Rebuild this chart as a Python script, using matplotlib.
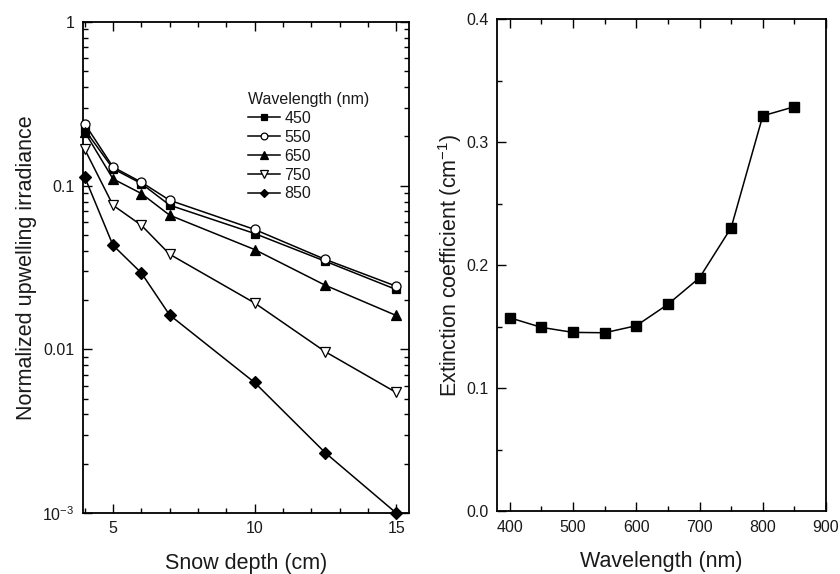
import matplotlib
matplotlib.use("Agg")
import matplotlib.pyplot as plt
from matplotlib.ticker import MultipleLocator, FixedLocator, FixedFormatter, LogLocator, NullFormatter

plt.rcParams['font.family'] = ['Liberation Sans', 'DejaVu Sans']
plt.rcParams['mathtext.fontset'] = 'custom'
plt.rcParams['mathtext.rm'] = 'Liberation Sans'
plt.rcParams['mathtext.it'] = 'Liberation Sans:italic'
plt.rcParams['mathtext.bf'] = 'Liberation Sans:bold'

# Left panel data
depth = [4, 5, 6, 7, 10, 12.5, 15]
wl_labels = ['450', '550', '650', '750', '850']
irr_450 = [0.220, 0.127, 0.103, 0.076, 0.051, 0.0345, 0.0232]
irr_550 = [0.239, 0.130, 0.105, 0.0814, 0.054, 0.0354, 0.0243]
irr_650 = [0.213, 0.110, 0.0895, 0.066, 0.0407, 0.0246, 0.0161]
irr_750 = [0.167, 0.0759, 0.0573, 0.0381, 0.0192, 0.00966, 0.00545]
irr_850 = [0.113, 0.0432, 0.0293, 0.0162, 0.00627, 0.00233, 0.001]

# Right panel data
wavelength = [400, 450, 500, 550, 600, 650, 700, 750, 800, 850]
extinction = [0.1574, 0.1496, 0.1455, 0.1452, 0.1509, 0.1683, 0.1899, 0.2306, 0.3216, 0.329]

fig = plt.figure(figsize=(8.4, 5.74), dpi=100)
ax1 = fig.add_axes([0.0988, 0.1063, 0.388, 0.8554])
ax2 = fig.add_axes([0.5917, 0.1092, 0.3917, 0.857])

tick_fs = 11.5
label_fs = 15.5
txt_col = '#1a1a1a'

series = [irr_450, irr_550, irr_650, irr_750, irr_850]
markers = ['s', 'o', '^', 'v', 'D']
fills = ['black', 'white', 'black', 'white', 'black']
sizes = [6, 6.5, 7, 7, 6]
for vals, lab, m, fc, ms in zip(series, wl_labels, markers, fills, sizes):
    ax1.plot(depth, vals, color='black', lw=1.1, marker=m, ms=ms,
             mfc=fc, mec='black', mew=0.9, label=lab, clip_on=False, zorder=3)

ax1.set_yscale('log')
ax1.set_ylim(0.001, 1)
ax1.set_xlim(3.94, 15.45)
ax1.xaxis.set_major_locator(FixedLocator([5, 10, 15]))
ax1.xaxis.set_minor_locator(MultipleLocator(1))
ax1.yaxis.set_major_locator(FixedLocator([0.001, 0.01, 0.1, 1]))
ax1.yaxis.set_major_formatter(FixedFormatter([r'$\mathregular{10^{-3}}$', '0.01', '0.1', '1']))
ax1.yaxis.set_minor_locator(LogLocator(base=10, subs=range(2, 10)))
ax1.yaxis.set_minor_formatter(NullFormatter())
ax1.tick_params(which='both', direction='in', top=True, right=True, labelsize=tick_fs,
                width=1.0, labelcolor=txt_col)
ax1.tick_params(which='major', length=6.5, pad=6)
ax1.tick_params(which='minor', length=3.5)
ax1.set_xlabel('Snow depth (cm)', fontsize=label_fs, labelpad=12, color=txt_col)
ax1.set_ylabel('Normalized upwelling irradiance', fontsize=label_fs, labelpad=4, color=txt_col)

leg = ax1.legend(title='Wavelength (nm)', loc='upper left', bbox_to_anchor=(0.505, 0.857),
                 frameon=False, fontsize=11.5, title_fontsize=11.5, handlelength=2.0,
                 handletextpad=0.3, labelspacing=0.24, borderpad=0, borderaxespad=0,
                 markerscale=0.75, alignment='left')
for t in leg.get_texts():
    t.set_color(txt_col)
leg.get_title().set_color(txt_col)

ax2.plot(wavelength, extinction, color='black', lw=1.1, marker='s', ms=7,
         mfc='black', mec='black', clip_on=False, zorder=3)
ax2.set_xlim(380, 900)
ax2.set_ylim(0, 0.4)
ax2.xaxis.set_major_locator(MultipleLocator(100))
ax2.xaxis.set_minor_locator(MultipleLocator(50))
ax2.yaxis.set_major_locator(MultipleLocator(0.1))
ax2.yaxis.set_minor_locator(MultipleLocator(0.05))
ax2.yaxis.set_major_formatter(matplotlib.ticker.FormatStrFormatter('%.1f'))
ax2.tick_params(which='both', direction='in', top=True, right=False, labelsize=tick_fs,
                width=1.0, labelcolor=txt_col)
ax2.tick_params(which='major', length=6.5, pad=6)
ax2.tick_params(which='minor', length=3.5)
ax2.set_xlabel('Wavelength (nm)', fontsize=label_fs, labelpad=12, color=txt_col)
ax2.set_ylabel(r'Extinction coefficient (cm$\mathregular{^{-1}}$)', fontsize=label_fs,
               labelpad=2, color=txt_col)

for ax in (ax1, ax2):
    for s in ax.spines.values():
        s.set_linewidth(1.3)

fig.savefig('out.png', dpi=100)
